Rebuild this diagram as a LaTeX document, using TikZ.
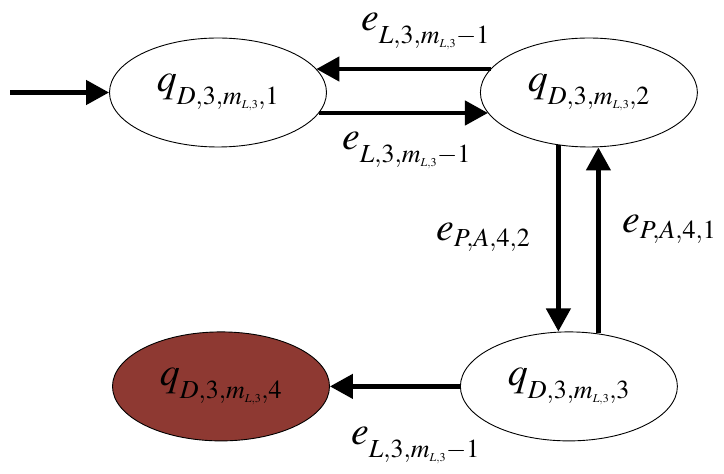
\documentclass[tikz,border=0pt]{standalone}
\usepackage{mathptmx}
\DeclareMathSizes{40}{40}{26}{12}
\usetikzlibrary{arrows.meta, positioning, shapes.geometric}
\definecolor{mybrown}{RGB}{142,57,50}
% subscripts set lower, as in the equation editor
\newcommand{\dropsub}[1]{\lower7pt\hbox{$\scriptstyle #1$}}

\begin{document}
\begin{tikzpicture}[x=1pt, y=1pt,
    state/.style={ellipse, draw, line width=0.9pt, minimum width=217pt,
      minimum height=109pt, inner sep=0pt, fill=white,
      font=\fontsize{40}{46}\selectfont},
    final/.style={state, fill=mybrown},
    trans/.style={line width=4.5pt, -{Triangle[length=23pt, width=24pt]}},
    lab/.style={inner sep=0pt, anchor=base west,
      font=\fontsize{40}{46}\selectfont}
]
\useasboundingbox (0,0) rectangle (724,474);

\node[state] (q1) at (218,381.5) {$q_{\dropsub{D,3,m_{L,3},1}}$};
\node[state, right=153pt of q1] (q2) {$q_{\dropsub{D,3,m_{L,3},2}}$};
\node[state, below=184pt of q2, xshift=-20pt] (q3) {$q_{\dropsub{D,3,m_{L,3},3}}$};
\node[final, left=130pt of q3] (q4) {$q_{\dropsub{D,3,m_{L,3},4}}$};

\coordinate (start) at (10,381.5);

\draw[trans] (start) -- (q1.west);
\draw[trans] ([shift={(10.6pt,23.5pt)}]q2.west) -- ([shift={(-10.6pt,23.5pt)}]q1.east);
\draw[trans] ([shift={(-8pt,-20.5pt)}]q1.east) -- ([shift={(8pt,-20.5pt)}]q2.west);
\draw[trans] ([shift={(-30.5pt,2pt)}]q2.south) -- ([xshift=-10.5pt]q3.north);
\draw[trans] ([shift={(29.5pt,-2pt)}]q3.north) -- ([xshift=9.5pt]q2.south);
\draw[trans] (q3.west) -- (q4.east);

\node[lab] (e21) at (361,443) {$e_{\dropsub{L,3,m_{L,3}-1}}$};
\node[lab] (e12) at (342,324) {$e_{\dropsub{L,3,m_{L,3}-1}}$};
\node[lab] (e23) at (436,233) {$e_{P,A,4,2}$};
\node[lab] (e32) at (622,241) {$e_{P,A,4,1}$};
\node[lab] (e34) at (351,29) {$e_{\dropsub{L,3,m_{L,3}-1}}$};
\end{tikzpicture}
\end{document}
